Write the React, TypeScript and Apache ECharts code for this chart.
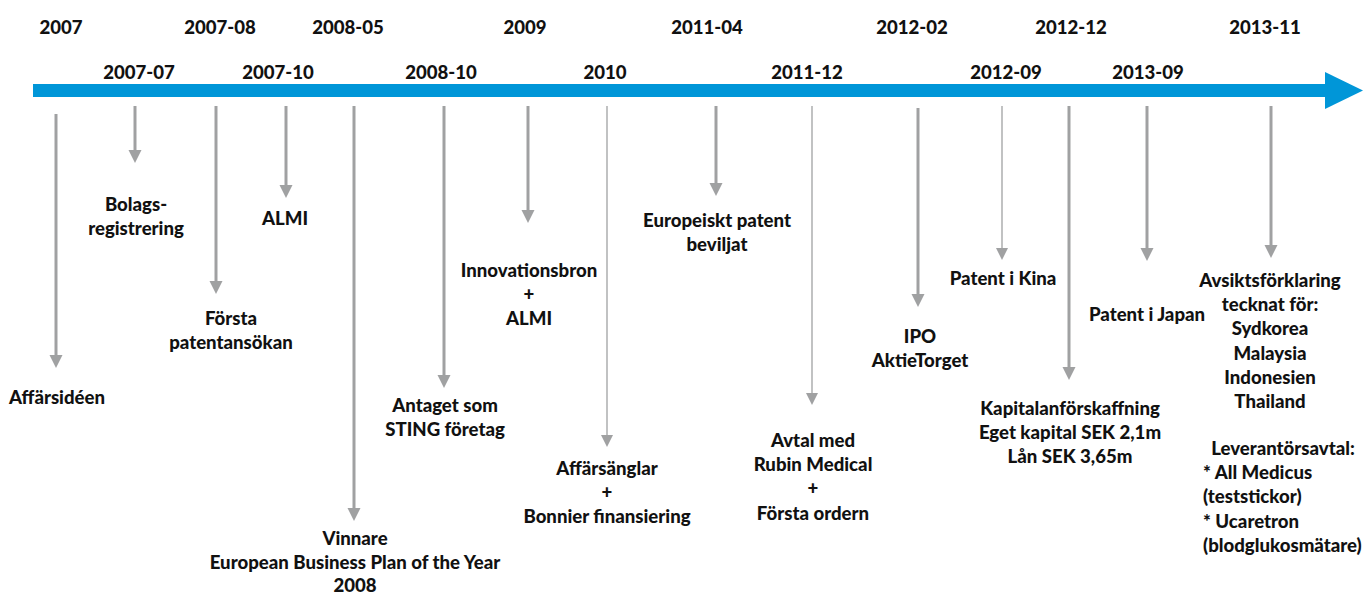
import React, { useEffect, useRef } from 'react';
import * as echarts from 'echarts';

// ---- Data ----
const dates = ['2007', '2007-07', '2007-08', '2007-10', '2008-05', '2008-10', '2009', '2010', '2011-04', '2011-12', '2012-02', '2012-09', '2012-12', '2013-09', '2013-11'];
// position of each event along the timeline (timeline units)
const eventPos = [56, 135, 216, 286, 354, 444, 528, 607, 716, 812, 918, 1002, 1069, 1147, 1271];
// depth where each arrow starts / ends (depth units)
const arrowStart = [114, 106, 106, 106, 106, 106, 106, 106, 106, 106, 108, 106, 106, 106, 106];
const arrowEnd = [368, 163, 294, 198, 521, 388, 223, 447, 196, 405, 307, 260, 380, 261, 258];
const arrowThin = [false, false, false, false, false, false, false, true, false, true, false, true, false, false, false];
const descriptions: string[][] = [
  ['Affärsidéen'],
  ['Bolags-', 'registrering'],
  ['Första', 'patentansökan'],
  ['ALMI'],
  ['Vinnare', 'European Business Plan of the Year', '2008'],
  ['Antaget som', 'STING företag'],
  ['Innovationsbron', '+', 'ALMI'],
  ['Affärsänglar', '+', 'Bonnier finansiering'],
  ['Europeiskt patent', 'beviljat'],
  ['Avtal med', 'Rubin Medical', '+', 'Första ordern'],
  ['IPO', 'AktieTorget'],
  ['Patent i Kina'],
  ['Kapitalanförskaffning', 'Eget kapital SEK 2,1m', 'Lån SEK 3,65m'],
  ['Patent i Japan'],
  ['Avsiktsförklaring', 'tecknat för:', 'Sydkorea', 'Malaysia', 'Indonesien', 'Thailand'],
];
const supplierTitle = 'Leverantörsavtal:';
const supplierLines = ['* All Medicus', '(teststickor)', '* Ucaretron', '(blodglukosmätare)'];
const timelineRange = [33, 1363];

// ---- Layout (label placement) ----
const dateLabelX = [61, 139, 220, 278, 348, 441, 525, 605, 707, 807, 912, 1006, 1071, 1148, 1265];
const dateRowY = [27, 72];
const descX = [57, 136, 231, 285, 355, 445, 529, 607, 717, 813, 920, 1003, 1070, 1147, 1270];
const descY = [397, 204, 318, 218, 538, 405, 270, 468, 220, 440, 336, 278, 408, 314, 280];
const LINE_STEP = 24.2;
const VINNARE_STEP = 23.6;
const supplierTitleX = 1283;
const supplierTitleY = 448;
const supplierListX = 1203;

const FONT = 'Lato, "Open Sans", sans-serif';
const FONT_SIZE = 18.6;
const TEXT_COLOR = '#111111';
const ARROW_COLOR = '#a0a1a2';
const BLUE = '#0096d8';

function textEl(x: number, y: number, text: string, align: string) {
  return {
    type: 'text',
    x,
    y,
    style: {
      text,
      fill: TEXT_COLOR,
      fontFamily: FONT,
      fontWeight: 900,
      fontSize: FONT_SIZE,
      align,
      verticalAlign: 'middle',
    },
  };
}

export default function App() {
  const ref = useRef<HTMLDivElement>(null);
  useEffect(() => {
    if (!ref.current) return;
    const chart = echarts.init(ref.current, null, { renderer: 'svg' });
    const option: any = {
      animation: false,
      backgroundColor: '#ffffff',
      grid: { left: 0, right: 0, top: 0, bottom: 0 },
      xAxis: { type: 'value', min: 0, max: 1366, show: false },
      yAxis: { type: 'value', min: 0, max: 597, inverse: true, show: false },
      series: [
        {
          type: 'custom',
          name: 'timeline',
          silent: true,
          data: [[timelineRange[0], timelineRange[1], 90.5]],
          renderItem: (params: any, api: any) => {
            const x0 = api.value(0);
            const x1 = api.value(1);
            const yc = api.value(2);
            const a = api.coord([x0, yc - 6.5]);
            const b = api.coord([x1 - 38, yc + 6.5]);
            const tip = api.coord([x1, yc]);
            const hTop = api.coord([x1 - 38, yc - 18.5]);
            const hBot = api.coord([x1 - 38, yc + 18.5]);
            return {
              type: 'group',
              children: [
                { type: 'rect', shape: { x: a[0], y: a[1], width: b[0] - a[0] + 1, height: b[1] - a[1] }, style: { fill: BLUE } },
                { type: 'polygon', shape: { points: [hTop, tip, hBot] }, style: { fill: BLUE } },
              ],
            };
          },
        },
        {
          type: 'custom',
          name: 'events',
          silent: true,
          data: dates.map((d, i) => [eventPos[i], arrowStart[i], arrowEnd[i], i]),
          renderItem: (params: any, api: any) => {
            const i = api.value(3);
            const x = api.value(0);
            const thin = arrowThin[i];
            const head = thin ? 12 : 13;
            const halfW = thin ? 6 : 6.5;
            const top = api.coord([x, api.value(1)]);
            const end = api.coord([x, api.value(2)]);
            const headBase = api.coord([x, api.value(2) - head]);
            const children: any[] = [
              {
                type: 'line',
                shape: { x1: top[0], y1: top[1], x2: headBase[0], y2: headBase[1] + 1 },
                style: { stroke: ARROW_COLOR, lineWidth: thin ? 1.3 : 3 },
              },
              {
                type: 'polygon',
                shape: { points: [[headBase[0] - halfW, headBase[1]], [headBase[0] + halfW, headBase[1]], end] },
                style: { fill: ARROW_COLOR },
              },
            ];
            const dl = api.coord([dateLabelX[i], dateRowY[i % 2]]);
            children.push(textEl(dl[0], dl[1], dates[i], 'center'));
            const step = i === 4 ? VINNARE_STEP : LINE_STEP;
            descriptions[i].forEach((line, k) => {
              const p = api.coord([descX[i], descY[i] + k * step]);
              children.push(textEl(p[0], p[1], line, 'center'));
            });
            if (i === dates.length - 1) {
              const t = api.coord([supplierTitleX, supplierTitleY]);
              children.push(textEl(t[0], t[1], supplierTitle, 'center'));
              supplierLines.forEach((line, k) => {
                const p = api.coord([supplierListX, supplierTitleY + (k + 1) * LINE_STEP]);
                children.push(textEl(p[0], p[1], line, 'left'));
              });
            }
            return { type: 'group', children };
          },
        },
      ],
    };
    chart.setOption(option);
    return () => chart.dispose();
  }, []);
  return (
    <div
      ref={ref}
      style={{ position: 'fixed', left: 0, top: 0, width: 1366, height: 597, background: '#fff' }}
    />
  );
}
